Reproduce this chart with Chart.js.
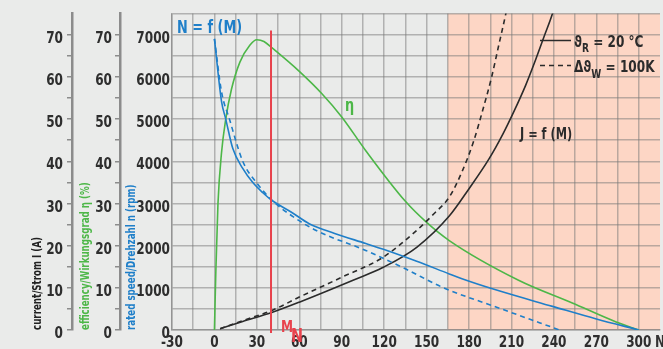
<!DOCTYPE html>
<html>
<head>
<meta charset="utf-8">
<script src="https://cdn.jsdelivr.net/npm/chart.js@4.4.1/dist/chart.umd.min.js"></script>
<style>
  html, body { margin: 0; padding: 0; background: #eaebea; }
</style>
</head>
<body>
<canvas id="chart" width="663" height="349"></canvas>
<script>
// torque axis M (Nm)
const xMin = -30, xMax = 315, xStep = 15, xLabelStep = 30;
const ratedTorque = 40;      // M_N
const overloadStart = 165;   // shaded zone

// speed n = f(M), rpm : solid = cold, dashed = hot
const speedColdM = [0, 5, 8, 13, 20, 27, 34, 41, 55, 67, 85, 107, 125, 143, 166, 175, 200, 239, 270, 300];
const speedColdN = [6900, 5420, 5000, 4300, 3830, 3500, 3260, 3064, 2780, 2520, 2290, 2050, 1850, 1630, 1330, 1215, 940, 560, 260, 0];
const speedHotM = [0, 5, 10.6, 20, 30, 41, 55, 72, 107, 135, 162, 200, 244];
const speedHotN = [6900, 5650, 5000, 4000, 3480, 3064, 2700, 2357, 1886, 1450, 1000, 535, 0];

// efficiency eta (%)
const etaM   = [0, 1, 2.5, 5, 8, 12, 18, 25, 30, 35, 41, 60, 76, 90, 107, 135, 150, 166, 215, 253, 284, 300];
const etaPct = [0, 14, 30, 42, 50, 57, 63.5, 67.5, 68.8, 68.4, 66.8, 61.3, 56, 50.5, 42.5, 30.5, 25.5, 21.2, 11.8, 6.4, 1.9, 0];

// current J = f(M), A : solid = cold, dashed = hot
const currentColdM = [4, 20, 41, 60, 98, 119, 143, 166, 180, 194, 204, 212, 220, 227, 233, 239, 244];
const currentColdA = [0.3, 2, 4.2, 6.6, 11.8, 14.8, 19.6, 27, 33.5, 40.5, 46.5, 52, 58, 64, 69.5, 75, 81];
const currentHotM = [4, 20, 41, 60, 90, 119, 143, 155, 166, 175, 183, 190, 196, 201, 206, 210];
const currentHotA = [0.3, 2.2, 4.7, 7.8, 12.5, 17.2, 23.6, 27.5, 31.5, 37.5, 44.5, 52.5, 60, 67.5, 75, 82];

const FONT = "'Liberation Sans Narrow', 'DejaVu Sans Condensed', 'Liberation Sans', sans-serif";
const gridColor = 'rgba(120,120,120,0.5)';
const axisColor = '#8c8c8c';
const blue = '#1f7fc9', green = '#4db748', black = '#2b2b2b', red = '#e8424c';

const pts = (xs, ys) => xs.map((x, i) => ({ x: x, y: ys[i] }));

const tickFont = { family: FONT, size: 16, weight: 'bold' };
const titleFont = { family: FONT, size: 11.5, weight: 'bold' };

// no condensed face installed: squeeze every text run horizontally around its anchor
const canvas = document.getElementById('chart');
const ctx2d = canvas.getContext('2d');
const SQ = 0.84;
const rawFill = ctx2d.fillText.bind(ctx2d);
const rawMeasure = ctx2d.measureText.bind(ctx2d);
ctx2d.fillText = function (t, x, y) {
    this.save();
    this.translate(x, y);
    this.scale(SQ, 1);
    rawFill(t, 0, 0);
    this.restore();
};
ctx2d.measureText = function (t) {
    const m = rawMeasure(t);
    return {
        width: m.width * SQ,
        actualBoundingBoxAscent: m.actualBoundingBoxAscent,
        actualBoundingBoxDescent: m.actualBoundingBoxDescent
    };
};

function sideAxis(weight, width, max, step, labelStep, title, titleColor, titlePad, pad, opts) {
    return Object.assign({
        type: 'linear', position: 'left', weight: weight, min: 0, max: max,
        ticks: {
            stepSize: step, autoSkip: false, font: tickFont, color: '#2e2e2e', padding: pad, labelOffset: 4,
            callback: v => (v % labelStep === 0 && v < max) ? String(v) : ''
        },
        grid: {
            drawOnChartArea: false, tickLength: 5, lineWidth: 1.5,
            color: c => (c.tick && c.tick.value === max) ? 'rgba(0,0,0,0)' : axisColor
        },
        border: { color: axisColor, width: 2.5 },
        title: { display: true, text: title, align: 'start', color: titleColor, font: titleFont, padding: { top: titlePad, bottom: 0 } },
        afterFit: s => { s.width = width; }
    }, opts || {});
}

const decor = {
    id: 'decor',
    beforeDraw(chart) {
        const { ctx, chartArea: a, scales: { x } } = chart;
        ctx.save();
        ctx.fillStyle = '#eaebea';
        ctx.fillRect(0, 0, chart.width, chart.height);
        const x0 = x.getPixelForValue(overloadStart);
        ctx.fillStyle = '#fdd6c5';
        ctx.fillRect(x0, a.top, a.right - x0, a.bottom - a.top);
        ctx.restore();
    },
    afterDraw(chart) {
        const { ctx } = chart;
        ctx.save();
        ctx.textBaseline = 'alphabetic';
        ctx.textAlign = 'left';
        const txt = (s, x, y, size, color) => {
            ctx.font = 'bold ' + size + 'px ' + FONT;
            ctx.fillStyle = color;
            ctx.fillText(s, x, y);
            return x + ctx.measureText(s).width;
        };
        txt('N = f (M)', 177, 33, 17, blue);
        txt('η', 345, 111, 17, green);
        txt('J = f (M)', 520, 139, 15, black);
        let p = txt('M', 281, 332, 16, red);
        txt('N', p - 2, 342, 19, red);
        txt('Nm', 655, 347, 16, '#333');

        // legend
        ctx.strokeStyle = black;
        ctx.lineWidth = 1.5;
        ctx.beginPath(); ctx.moveTo(540, 40.5); ctx.lineTo(571, 40.5); ctx.stroke();
        ctx.setLineDash([5, 4]);
        ctx.beginPath(); ctx.moveTo(540, 65.5); ctx.lineTo(571, 65.5); ctx.stroke();
        ctx.setLineDash([]);
        p = txt('ϑ', 574, 46.5, 16, black);
        p = txt('R', p, 52, 12, black);
        txt(' = 20 °C', p, 46.5, 16, black);
        p = txt('Δϑ', 574, 72, 16, black);
        p = txt('W', p, 78, 12, black);
        txt(' = 100K', p, 72, 16, black);
        ctx.restore();
    }
};

new Chart(canvas, {
    type: 'line',
    data: {
        datasets: [
            { data: [{ x: ratedTorque, y: 7100 }, { x: ratedTorque, y: -70 }], yAxisID: 'y', borderColor: red, borderWidth: 2, tension: 0, clip: 8 },
            { data: pts(speedColdM, speedColdN), yAxisID: 'y', borderColor: blue, borderWidth: 1.6 },
            { data: pts(speedHotM, speedHotN), yAxisID: 'y', borderColor: blue, borderWidth: 1.6, borderDash: [5, 4] },
            { data: pts(currentColdM, currentColdA), yAxisID: 'yCur', borderColor: black, borderWidth: 1.6 },
            { data: pts(currentHotM, currentHotA), yAxisID: 'yCur', borderColor: black, borderWidth: 1.6, borderDash: [5, 4] },
            { data: pts(etaM, etaPct), yAxisID: 'yEta', borderColor: green, borderWidth: 1.6 }
        ]
    },
    options: {
        responsive: false,
        animation: false,
        devicePixelRatio: 1,
        layout: { padding: { left: 0, right: 3, top: 12, bottom: 0 } },
        elements: {
            point: { radius: 0 },
            line: { cubicInterpolationMode: 'monotone', fill: false }
        },
        plugins: { legend: { display: false }, tooltip: { enabled: false } },
        scales: {
            x: {
                type: 'linear', min: xMin, max: xMax,
                ticks: {
                    stepSize: xStep, autoSkip: false, maxRotation: 0, font: tickFont, color: '#2e2e2e', padding: 3,
                    callback: v => (v % xLabelStep === 0 && v <= 300) ? String(v) : ''
                },
                grid: {
                    drawTicks: false, lineWidth: 1.5,
                    color: c => (c.tick && c.tick.value === xMax) ? 'rgba(0,0,0,0)' : gridColor
                },
                border: { color: gridColor, width: 1.5 },
                afterFit: s => { s.height = 19; }
            },
            yCur: sideAxis(3, 72, 75, 5, 10, 'current/Strom I (A)', '#222', 31, 4),
            yEta: sideAxis(2, 48, 75, 5, 10, 'efficiency/Wirkungsgrad η (%)', green, 7, 3),
            y: sideAxis(1, 52, 7500, 500, 1000, 'rated speed/Drehzahl n (rpm)', blue, 5, 2, {
                grid: { drawOnChartArea: true, drawTicks: false, lineWidth: 1.5, color: gridColor },
                border: { color: gridColor, width: 1.5 }
            })
        }
    },
    plugins: [decor]
});
</script>
</body>
</html>
